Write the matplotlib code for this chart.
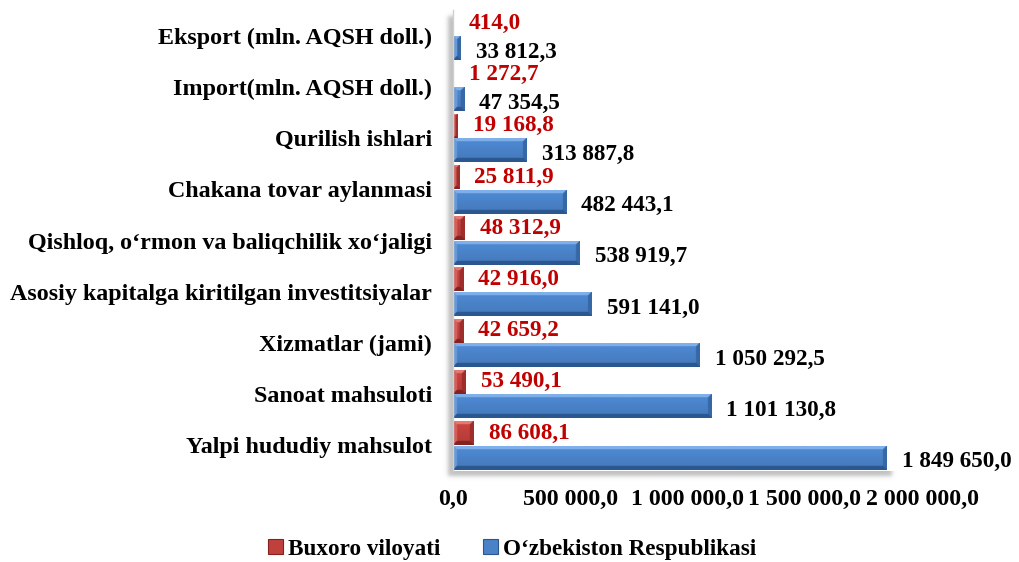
import numpy as np
import matplotlib
matplotlib.use("Agg")
import matplotlib.pyplot as plt
from matplotlib.patches import Rectangle, Patch

categories = ["Yalpi hududiy mahsulot", "Sanoat mahsuloti", "Xizmatlar (jami)",
              "Asosiy kapitalga kiritilgan investitsiyalar",
              "Qishloq, o‘rmon va baliqchilik xo‘jaligi", "Chakana tovar aylanmasi",
              "Qurilish ishlari", "Import(mln. AQSH doll.)", "Eksport (mln. AQSH doll.)"]
buxoro = [86608.1, 53490.1, 42659.2, 42916.0, 48312.9, 25811.9, 19168.8, 1272.7, 414.0]
uzb = [1849650.0, 1101130.8, 1050292.5, 591141.0, 538919.7, 482443.1, 313887.8, 47354.5, 33812.3]
xticks = [0, 500000, 1000000, 1500000, 2000000]
series_names = ["Buxoro viloyati", "O‘zbekiston Respublikasi"]

plt.rcParams['font.family'] = ['Liberation Serif', 'DejaVu Serif']
plt.rcParams['font.weight'] = 'bold'

W, H = 1019, 562
fig = plt.figure(figsize=(W / 100, H / 100), dpi=100)
AX_L, AX_R, AX_T, AX_B = 453, 922, 10, 471
ax = fig.add_axes([AX_L / W, 1 - AX_B / H, (AX_R - AX_L) / W, (AX_B - AX_T) / H])
ax.set_xlim(0, 2000000)
ax.set_ylim(-0.5, len(categories) - 0.5)

# soft drop shadow of the plot area (bottom-left)
yy, xx = np.mgrid[0:H, 0:W] + 0.5
def soft(a, lo, hi, s):
    return (0.5 * (1 + np.tanh((a - lo) / s))) * (0.5 * (1 + np.tanh((hi - a) / s)))
alpha = soft(xx, AX_L - 5, 892, 2.5) * soft(yy, AX_T + 6, AX_B + 5, 2.5) * 0.45
shadow = np.zeros((H, W, 4))
shadow[..., :3] = 0.45
shadow[..., 3] = alpha
fig.figimage(shadow, 0, 0, origin='upper', zorder=-1)

def fmt(v):
    s = f"{v:,.1f}"
    return s.replace(",", " ").replace(".", ",")

def rgb(h):
    h = h.lstrip('#')
    return np.array([int(h[i:i + 2], 16) / 255 for i in (0, 2, 4)])

blue = dict(face=rgb('#4A82C8'), top=rgb('#7FB0EA'), bot=rgb('#2B578F'), right=rgb('#3668A6'), left=rgb('#6A9AD8'))
red = dict(face=rgb('#C0403C'), top=rgb('#E47A74'), bot=rgb('#852220'), right=rgb('#9E2E2B'), left=rgb('#D4605B'))

def bevel_img(wpx, hpx, pal, b=4.0, s=2):
    wpx = max(int(wpx * s), 2)
    hpx = max(int(hpx * s), 2)
    b = b * s
    u = np.arange(wpx)[None, :] + 0.5
    v = np.arange(hpx)[:, None] + 0.5
    dt = np.broadcast_to(v, (hpx, wpx))
    db = np.broadcast_to(hpx - v, (hpx, wpx))
    dl = np.broadcast_to(u, (hpx, wpx))
    dr = np.broadcast_to(wpx - u, (hpx, wpx))
    stack = np.stack([dt, db, dl, dr])
    idx = np.argmin(stack, axis=0)
    mn = np.min(stack, axis=0)
    img = np.zeros((hpx, wpx, 3))
    t = (v / hpx)
    face = pal['face'][None, None, :] * (1.08 - 0.16 * t[..., None])
    img[:] = np.clip(np.broadcast_to(face, (hpx, wpx, 3)), 0, 1)
    for k, n in enumerate(['top', 'bot', 'left', 'right']):
        m = (idx == k) & (mn < b)
        img[m] = pal[n]
    return img

ppx = (AX_R - AX_L) / 2000000.0
ppy = (AX_B - AX_T) / len(categories)
bh = 0.47
off = 0.24

for i, (r, b) in enumerate(zip(buxoro, uzb)):
    for val, yc, pal, col in [(r, i + off, red, '#C00000'), (b, i - off, blue, 'black')]:
        rect = Rectangle((0, yc - bh / 2), val, bh, facecolor=pal['face'], edgecolor='none', zorder=2)
        ax.add_patch(rect)
        img = bevel_img(val * ppx, bh * ppy, pal, b=min(4.0, max(val * ppx / 2, 0.5)))
        im = ax.imshow(img, extent=(0, val, yc - bh / 2, yc + bh / 2), aspect='auto',
                       interpolation='bilinear', zorder=3)
        im.set_clip_path(rect)
        dy = 0.0 if col != 'black' else -0.08
        ax.annotate(fmt(val), (val, yc + dy), xytext=(11, 0), textcoords='offset points',
                    ha='left', va='center', fontsize=16.7, fontweight='bold', color=col,
                    annotation_clip=False, zorder=5)

ax.set_yticks(range(len(categories)))
ax.set_yticklabels(categories, fontsize=17.3, fontweight='bold')
ax.set_xticks(xticks)
ax.set_xticklabels([fmt(x) for x in xticks], fontsize=17.2, fontweight='bold')
ax.tick_params(axis='both', length=0)
ax.tick_params(axis='x', pad=13)
ax.tick_params(axis='y', pad=15)
for s in ['top', 'right', 'bottom']:
    ax.spines[s].set_visible(False)
ax.spines['left'].set_color('#D0D0D0')
ax.spines['left'].set_linewidth(1.0)
ax.spines['left'].set_zorder(4)

handles = [Patch(facecolor=red['face'], edgecolor=red['bot'], linewidth=0.8),
           Patch(facecolor=blue['face'], edgecolor=blue['bot'], linewidth=0.8)]
fig.legend(handles, series_names, loc='center', bbox_to_anchor=(512 / W, 1 - 549 / H),
           ncol=2, frameon=False, prop={'size': 16.7, 'weight': 'bold'},
           handlelength=0.65, handleheight=0.65, handletextpad=0.2, columnspacing=1.85)

fig.savefig("out.png", dpi=100)
